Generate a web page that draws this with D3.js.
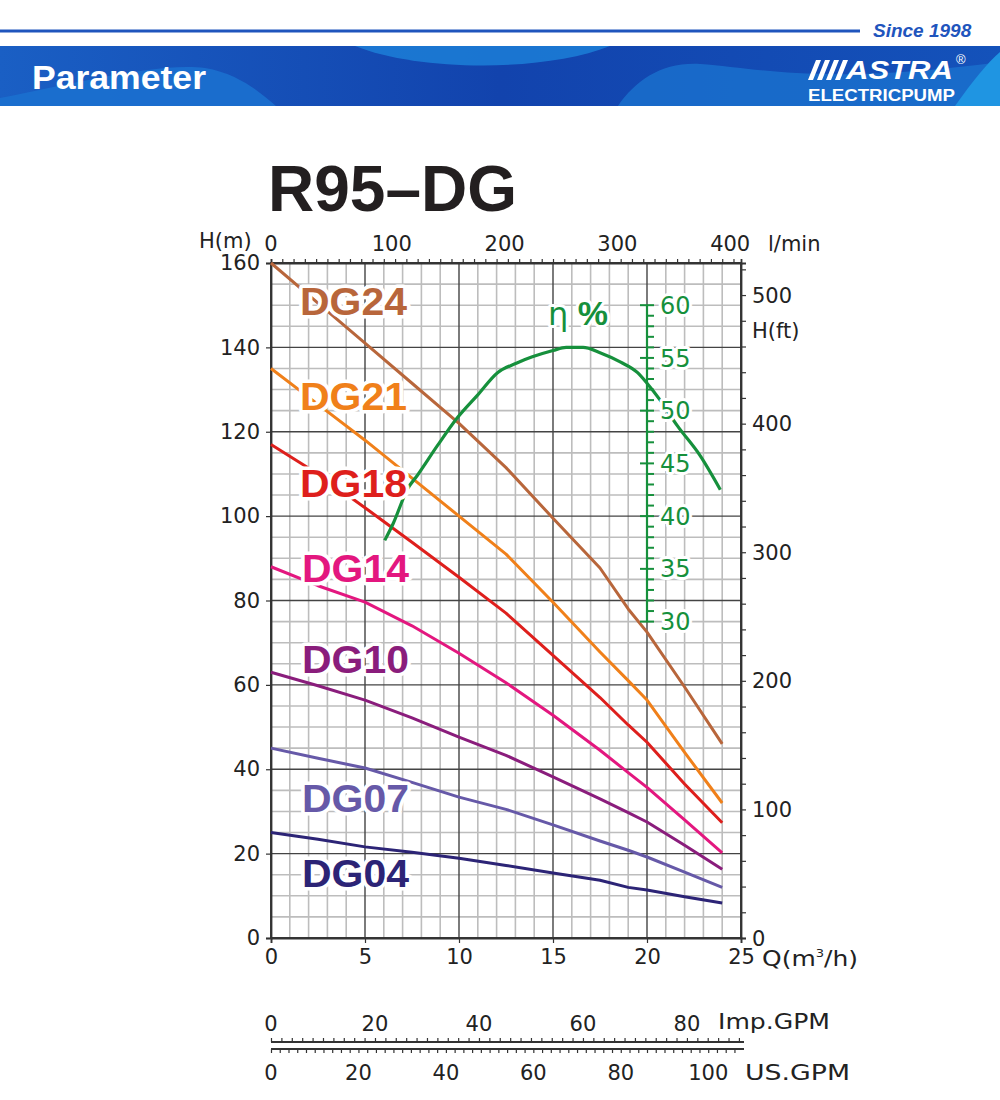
<!DOCTYPE html>
<html>
<head>
<meta charset="utf-8">
<script src="https://cdn.jsdelivr.net/npm/d3@7"></script>
<style>
  html, body { margin: 0; padding: 0; background: #fff; }
  svg { display: block; }
  text { font-family: "DejaVu Sans", sans-serif; }
</style>
</head>
<body>
<svg id="chart" width="1000" height="1100"></svg>
<script>
// ---------------- DATA ----------------
const flow = [0, 2.5, 5, 7.5, 10, 12.5, 15, 17.5, 19, 20, 22, 24]; // m3/h
const DG24 = [160, 150.5, 141, 131.5, 122, 111.5, 99.5, 87.7, 78, 72.5, 59.5, 46];
const DG21 = [135, 126.5, 118, 109, 100, 91, 79.6, 67.8, 61, 56.4, 44, 32];
const DG18 = [117, 110, 102, 93.8, 85.5, 77, 67, 57, 50.5, 46.4, 36.5, 27.3];
const DG14 = [88, 83.5, 79.6, 74, 67.5, 60.5, 52.8, 44.5, 39.2, 35.7, 28, 20.2];
const DG10 = [63, 59.8, 56.4, 52.2, 47.6, 43.3, 38.2, 33, 29.7, 27.5, 22, 16.3];
const DG07 = [45, 42.6, 40.3, 36.9, 33.4, 30.5, 26.8, 23, 20.8, 19.2, 15.6, 12];
const DG04 = [25, 23.4, 21.6, 20.3, 18.9, 17.2, 15.4, 13.7, 12.0, 11.4, 9.8, 8.3];
const seriesNames = ["DG24", "DG21", "DG18", "DG14", "DG10", "DG07", "DG04"];
const seriesColors = ["#b8663b", "#f0801a", "#de1f1c", "#e3177f", "#8a1d7c", "#6659a8", "#2c2476"];

const effFlow = [6.05, 6.5, 7.27, 7.8, 8.86, 9.9, 11, 12.05, 13.05, 13.9, 15, 15.7, 16.6, 17.5, 18.6, 19.5, 20, 20.7, 21.6, 22.8, 23.9];
const effVals = [37.7, 39.3, 42.6, 43.9, 46.7, 49.3, 51.5, 53.6, 54.5, 55.1, 55.7, 56, 56, 55.5, 54.6, 53.6, 52.6, 51, 48.6, 45.8, 42.5];

const qTicks = [0, 5, 10, 15, 20, 25];
const hTicks = [0, 20, 40, 60, 80, 100, 120, 140, 160];
const ftTicks = [0, 100, 200, 300, 400, 500];
const lminTicks = [0, 100, 200, 300, 400];
const effTicks = [30, 35, 40, 45, 50, 55, 60];
const impTicks = [0, 20, 40, 60, 80];
const usTicks = [0, 20, 40, 60, 80, 100];

// ---------------- SCALES ----------------
const svg = d3.select("#chart");
const X0 = 271, X1 = 741, Y0 = 938, Y1 = 263;
const x = d3.scaleLinear().domain([0, 25]).range([X0, X1]);
const y = d3.scaleLinear().domain([0, 160]).range([Y0, Y1]);
const yFt = d3.scaleLinear().domain([0, 160 / 0.3048]).range([Y0, Y1]);
const xLmin = d3.scaleLinear().domain([0, 25 * 1000 / 60]).range([X0, X1]);
const xImp = d3.scaleLinear().domain([0, 90.4]).range([X0, X1]);
const xUs = d3.scaleLinear().domain([0, 107.5]).range([X0, X1]);
const yEff = d3.scaleLinear().domain([30, 60]).range([y(75), y(150)]);

// ---------------- HEADER ----------------
const defs = svg.append("defs");
const grad = defs.append("linearGradient").attr("id", "bandGrad").attr("x1", 0).attr("x2", 1).attr("y1", 0).attr("y2", 0);
grad.append("stop").attr("offset", "0%").attr("stop-color", "#1a5fc4");
grad.append("stop").attr("offset", "50%").attr("stop-color", "#1243ad");
grad.append("stop").attr("offset", "100%").attr("stop-color", "#1452ba");
defs.append("clipPath").attr("id", "bandClip").append("rect").attr("x", 0).attr("y", 46).attr("width", 1000).attr("height", 60);

svg.append("line").attr("x1", 0).attr("x2", 860).attr("y1", 31).attr("y2", 31)
  .attr("stroke", "#1f55bd").attr("stroke-width", 3);
svg.append("text").attr("x", 873).attr("y", 37).text("Since 1998")
  .style("font-family", "Liberation Sans, Arial, sans-serif").style("font-weight", "bold")
  .style("font-style", "italic").style("font-size", "19px").attr("fill", "#1f55bd");

const band = svg.append("g").attr("clip-path", "url(#bandClip)");
band.append("rect").attr("x", 0).attr("y", 46).attr("width", 1000).attr("height", 60).attr("fill", "url(#bandGrad)");
band.append("path").attr("d", "M0,106 L0,98 C80,82 160,62 205,68 C240,74 262,94 276,106 Z").attr("fill", "#1b70cf").attr("opacity", 0.9);
band.append("path").attr("d", "M355,46 C420,72 545,72 610,46 Z").attr("fill", "#1c7bd5").attr("opacity", 0.9);
band.append("path").attr("d", "M618,106 C636,80 662,62 700,64 C760,68 820,86 1000,62 L1000,106 Z").attr("fill", "#1a72ce").attr("opacity", 0.8);
band.append("path").attr("d", "M955,106 C972,82 988,62 1000,52 L1000,106 Z").attr("fill", "#1f95e2");

svg.append("text").attr("x", 32).attr("y", 89).text("Parameter")
  .attr("textLength", 174).attr("lengthAdjust", "spacingAndGlyphs")
  .style("font-family", "Liberation Sans, Arial, sans-serif").style("font-weight", "bold")
  .style("font-size", "33px").attr("fill", "#fff");

// logo
const logo = svg.append("g").attr("fill", "#fff");
[0, 1, 2, 3].forEach(i => {
  const bx = 808 + i * 9;
  logo.append("path").attr("d", `M${bx},80 L${bx + 5},80 L${bx + 13},60 L${bx + 8},60 Z`);
});
logo.append("text").attr("x", 846).attr("y", 79).text("ASTRA")
  .attr("textLength", 107).attr("lengthAdjust", "spacingAndGlyphs")
  .style("font-family", "Liberation Sans, Arial, sans-serif").style("font-weight", "bold")
  .style("font-style", "italic").style("font-size", "26px");
logo.append("text").attr("x", 808).attr("y", 101).text("ELECTRICPUMP")
  .attr("textLength", 147).attr("lengthAdjust", "spacingAndGlyphs")
  .style("font-family", "Liberation Sans, Arial, sans-serif").style("font-weight", "bold")
  .style("font-size", "16px");
logo.append("text").attr("x", 956).attr("y", 64).text("®")
  .style("font-family", "Liberation Sans, Arial, sans-serif").style("font-size", "13px");

// ---------------- TITLE ----------------
svg.append("text").attr("x", 268).attr("y", 211).text("R95–DG")
  .style("font-family", "Liberation Sans, Arial, sans-serif").style("font-weight", "bold")
  .style("font-size", "64px").attr("fill", "#231f20");

// ---------------- GRID ----------------
const grid = svg.append("g");
const vLines = d3.range(0, 26, 1);
const hLines = d3.range(0, 161, 5);
grid.selectAll(".vmin").data(vLines.filter(v => v % 5 !== 0)).join("line")
  .attr("x1", d => x(d)).attr("x2", d => x(d)).attr("y1", Y0).attr("y2", Y1)
  .attr("stroke", "#bdbdbd").attr("stroke-width", 1.6);
grid.selectAll(".hmin").data(hLines.filter(v => v % 20 !== 0)).join("line")
  .attr("x1", X0).attr("x2", X1).attr("y1", d => y(d)).attr("y2", d => y(d))
  .attr("stroke", "#bdbdbd").attr("stroke-width", 1.6);
grid.selectAll(".vmaj").data(vLines.filter(v => v % 5 === 0)).join("line")
  .attr("x1", d => x(d)).attr("x2", d => x(d)).attr("y1", Y0).attr("y2", Y1)
  .attr("stroke", "#444").attr("stroke-width", 1.4);
grid.selectAll(".hmaj").data(hLines.filter(v => v % 20 === 0)).join("line")
  .attr("x1", X0).attr("x2", X1).attr("y1", d => y(d)).attr("y2", d => y(d))
  .attr("stroke", "#444").attr("stroke-width", 1.4);

// frame
svg.append("rect").attr("x", X0).attr("y", Y1).attr("width", X1 - X0).attr("height", Y0 - Y1)
  .attr("fill", "none").attr("stroke", "#333").attr("stroke-width", 1.8);

// ---------------- AXES ----------------
const numFont = "21px";
function styleAxis(g) {
  g.select(".domain").attr("stroke", "#333").attr("stroke-width", 1.8);
  g.selectAll(".tick line").attr("stroke", "#333").attr("stroke-width", 1.2);
  g.selectAll("text").style("font-family", "DejaVu Sans, sans-serif").style("font-size", numFont).attr("fill", "#222");
}
// left
svg.append("g").attr("transform", `translate(${X0},0)`)
  .call(d3.axisLeft(y).tickValues(hTicks).tickSize(5).tickPadding(6).tickFormat(d3.format("d")))
  .call(styleAxis);
svg.append("text").attr("x", 199).attr("y", 248).text("H(m)")
  .style("font-size", numFont).attr("fill", "#222");
// bottom
svg.append("g").attr("transform", `translate(0,${Y0})`)
  .call(d3.axisBottom(x).tickValues(qTicks).tickSize(5).tickPadding(6).tickFormat(d3.format("d")))
  .call(styleAxis);
const qLab = svg.append("text").attr("x", 762).attr("y", 966).style("font-size", numFont).attr("fill", "#222")
  .attr("textLength", 96).attr("lengthAdjust", "spacingAndGlyphs");
qLab.append("tspan").text("Q(m");
qLab.append("tspan").text("3").attr("dy", -9).style("font-size", "11px");
qLab.append("tspan").text("/h)").attr("dy", 9);
// top l/min
svg.append("g").attr("transform", `translate(0,${Y1})`)
  .call(d3.axisTop(xLmin).tickValues(d3.range(0, 411, 10)).tickSize(4).tickFormat(""))
  .call(styleAxis);
svg.append("g").selectAll("text").data(lminTicks).join("text")
  .attr("x", d => xLmin(d) + (d === 0 ? 0 : 8)).attr("y", 251).attr("text-anchor", "middle")
  .style("font-size", numFont).attr("fill", "#222").text(d => d);
svg.append("text").attr("x", 768).attr("y", 251).text("l/min").style("font-size", numFont).attr("fill", "#222");
// right ft
svg.append("g").attr("transform", `translate(${X1},0)`)
  .call(d3.axisRight(yFt).tickValues(d3.range(0, 521, 20)).tickSize(5).tickFormat(""))
  .call(styleAxis);
svg.append("g").selectAll("text").data(ftTicks).join("text")
  .attr("x", 752).attr("y", d => yFt(d)).attr("dy", "0.36em")
  .style("font-size", numFont).attr("fill", "#222").text(d => d);
svg.append("text").attr("x", 752).attr("y", 338).text("H(ft)").style("font-size", numFont).attr("fill", "#222");

// ---------------- CURVES ----------------
const allSeries = [DG24, DG21, DG18, DG14, DG10, DG07, DG04];
const line = d3.line().x(d => x(d[0])).y(d => y(d[1]));
const curves = svg.append("g");
allSeries.forEach((vals, i) => {
  curves.append("path").datum(flow.map((q, j) => [q, vals[j]]))
    .attr("d", line).attr("fill", "none").attr("stroke", seriesColors[i])
    .attr("stroke-width", 3).attr("stroke-linejoin", "round").attr("stroke-linecap", "butt");
});
const effLine = d3.line().x(d => x(d[0])).y(d => yEff(d[1])).curve(d3.curveMonotoneX);
svg.append("path").datum(effFlow.map((q, j) => [q, effVals[j]]))
  .attr("d", effLine).attr("fill", "none").attr("stroke", "#16903c").attr("stroke-width", 3.2);

// efficiency axis
const effG = svg.append("g").attr("transform", `translate(${x(20)},0)`);
effG.append("line").attr("x1", 0).attr("x2", 0).attr("y1", yEff(30)).attr("y2", yEff(60))
  .attr("stroke", "#16903c").attr("stroke-width", 2.2);
effG.selectAll(".mt").data(d3.range(30, 61, 1)).join("line")
  .attr("x1", d => d % 5 === 0 ? -7 : 0).attr("x2", 7)
  .attr("y1", d => yEff(d)).attr("y2", d => yEff(d))
  .attr("stroke", "#16903c").attr("stroke-width", 2);

// ---------------- LABELS WITH HALO ----------------
function halo(sel, w) {
  sel.attr("stroke", "#fff").attr("stroke-width", w).attr("stroke-linejoin", "round").style("paint-order", "stroke");
}
svg.append("g").selectAll("text").data(effTicks).join("text")
  .attr("x", x(20) + 13).attr("y", d => yEff(d)).attr("dy", "0.36em")
  .style("font-size", "24px").attr("fill", "#16903c").text(d => d)
  .call(halo, 6);

const eta = svg.append("text").attr("x", 548).attr("y", 325).attr("fill", "#16903c").call(halo, 6);
eta.append("tspan").text("η").style("font-size", "32px").style("font-family", "DejaVu Sans, sans-serif");
eta.append("tspan").text(" %").style("font-size", "34px").style("font-weight", "bold")
  .style("font-family", "Liberation Sans, Arial, sans-serif");

const labelPos = [[300, 315], [300, 410], [300, 497], [302, 582], [302, 673], [302, 812], [302, 887]];
svg.append("g").selectAll("text").data(seriesNames).join("text")
  .attr("x", (d, i) => labelPos[i][0]).attr("y", (d, i) => labelPos[i][1])
  .text(d => d).attr("fill", (d, i) => seriesColors[i])
  .attr("textLength", 107).attr("lengthAdjust", "spacingAndGlyphs")
  .style("font-family", "Liberation Sans, Arial, sans-serif").style("font-weight", "bold")
  .style("font-size", "39px").call(halo, 7);

// ---------------- GPM SCALES ----------------
const impG = svg.append("g").attr("transform", "translate(0,1042)")
  .call(d3.axisTop(xImp).tickValues(d3.range(0, 91, 2)).tickSize(4).tickSizeOuter(0).tickFormat(""))
  .call(styleAxis);
impG.select(".domain").attr("d", `M${X0},0H${X1 + 3}`);
svg.append("g").selectAll("text").data(impTicks).join("text")
  .attr("x", d => xImp(d)).attr("y", 1031).attr("text-anchor", "middle")
  .style("font-size", numFont).attr("fill", "#222").text(d => d);
svg.append("text").attr("x", 718).attr("y", 1029).text("Imp.GPM").style("font-size", "22px").attr("fill", "#222")
  .attr("textLength", 112).attr("lengthAdjust", "spacingAndGlyphs");

const usG = svg.append("g").attr("transform", "translate(0,1049)")
  .call(d3.axisBottom(xUs).tickValues(d3.range(0, 107, 2)).tickSize(4).tickSizeOuter(0).tickFormat(""))
  .call(styleAxis);
usG.select(".domain").attr("d", `M${X0},0H${X1 + 3}`);
svg.append("g").selectAll("text").data(usTicks).join("text")
  .attr("x", d => xUs(d)).attr("y", 1080).attr("text-anchor", "middle")
  .style("font-size", numFont).attr("fill", "#222").text(d => d);
svg.append("text").attr("x", 745).attr("y", 1080).text("US.GPM").style("font-size", "22px").attr("fill", "#222")
  .attr("textLength", 105).attr("lengthAdjust", "spacingAndGlyphs");
</script>
</body>
</html>
